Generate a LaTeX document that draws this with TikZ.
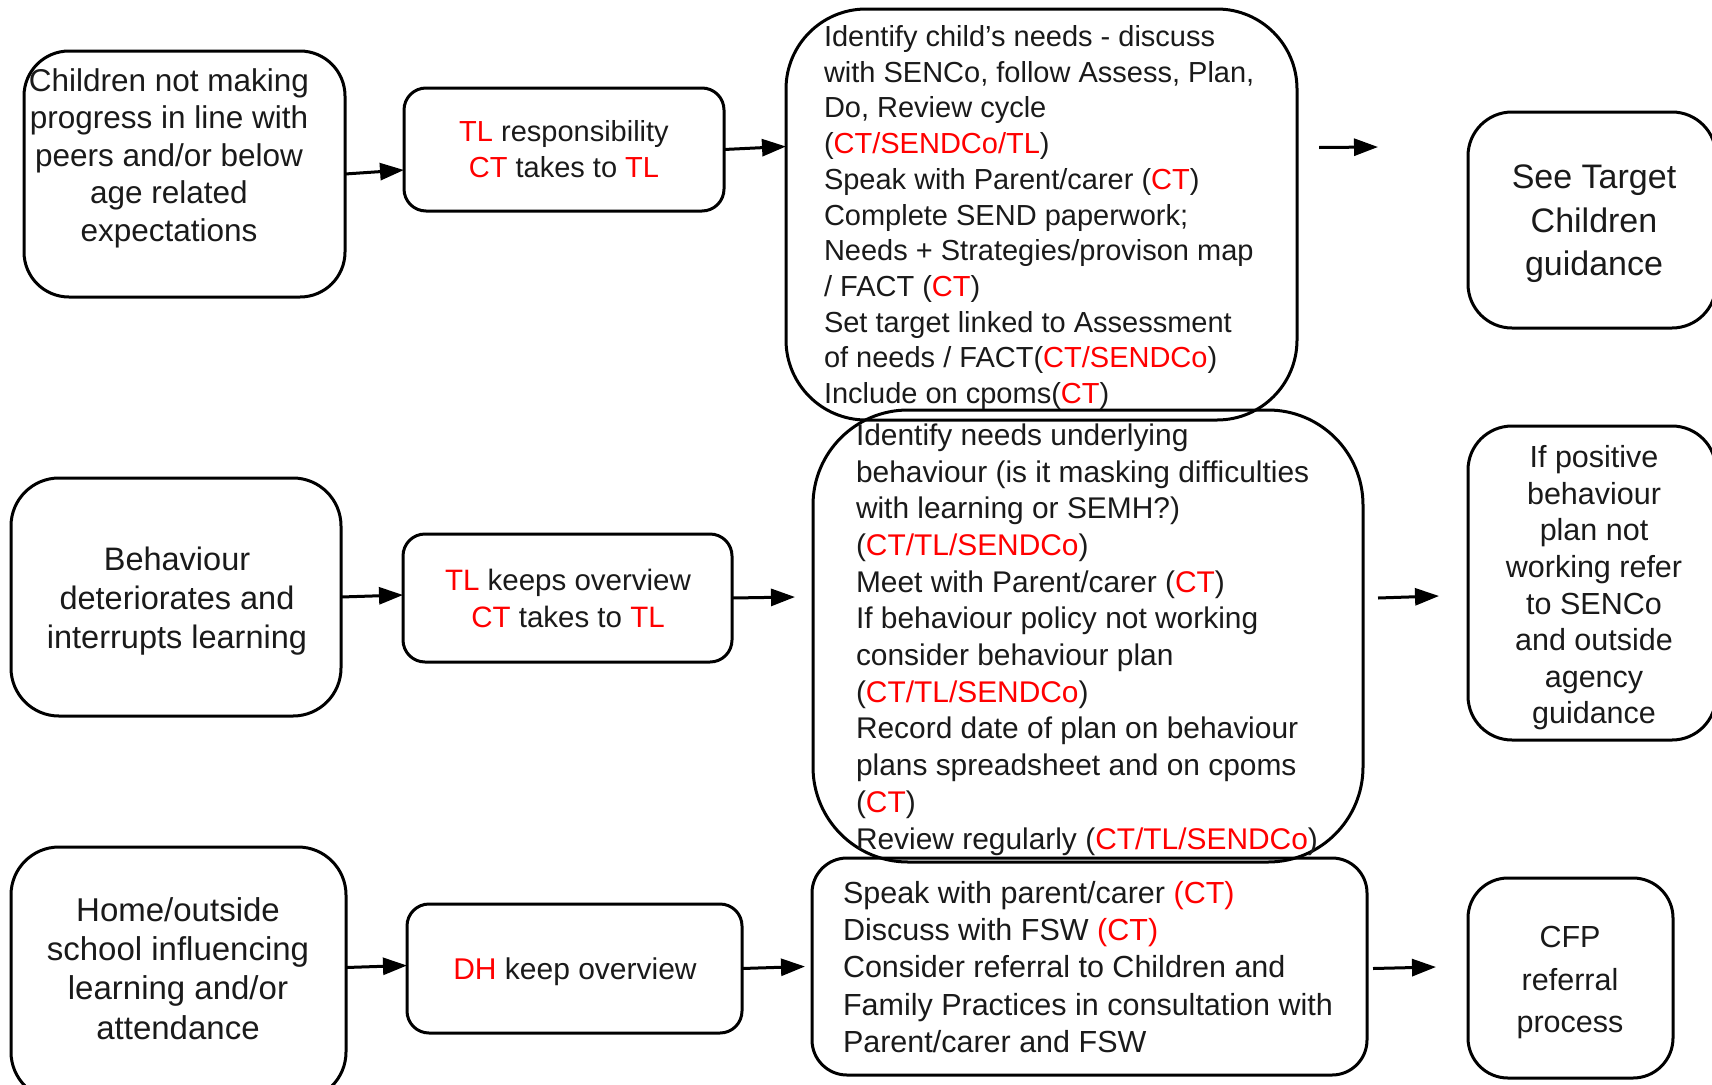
\documentclass[tikz,border=0pt]{standalone}
\usepackage{fontspec}
\setmainfont{Liberation Sans}
\usetikzlibrary{arrows.meta}
\definecolor{rd}{HTML}{FF0000}
\definecolor{ink}{HTML}{1A1A1A}
\newcommand{\rd}[1]{\textcolor{rd}{#1}}
\begin{document}
\begin{tikzpicture}[x=1pt,y=-1pt,
  box/.style={draw=black, line width=3pt, inner sep=0pt, outer sep=0pt},
  arr/.style={-{Triangle[length=24pt,width=17pt]}, line width=3pt, draw=black},
  txt/.style={inner sep=0pt, outer sep=0pt, text=ink}]
\useasboundingbox (0,0) rectangle (1712,1084);
\fill[white] (0,0) rectangle (1712,1084);
\clip (0,0) rectangle (1712,1084);

% ---- boxes ----
\node[box, rounded corners=45pt, minimum width=321pt, minimum height=246pt] (A1) at (184.5,174) {};
\node[box, rounded corners=22pt, minimum width=320pt, minimum height=123pt] (B1) at (564,149.5) {};
\node[box, rounded corners=80pt, minimum width=511pt, minimum height=411pt] (C1) at (1041.5,214.5) {};
\node[box, rounded corners=44pt, minimum width=248pt, minimum height=216pt] (D1) at (1592,220) {};

\node[box, rounded corners=48pt, minimum width=330pt, minimum height=238pt] (A2) at (176,597) {};
\node[box, rounded corners=22pt, minimum width=329pt, minimum height=128pt] (B2) at (567.5,598) {};
\node[box, rounded corners=95pt, minimum width=550pt, minimum height=452pt] (C2) at (1088,636) {};
\node[box, rounded corners=44pt, minimum width=248pt, minimum height=314pt] (D2) at (1592,583) {};

\node[box, rounded corners=48pt, minimum width=335pt, minimum height=253pt] (A3) at (178.5,973.5) {};
\node[box, rounded corners=22pt, minimum width=335pt, minimum height=129pt] (B3) at (574.5,968.5) {};
\node[box, rounded corners=35pt, minimum width=555pt, minimum height=217pt] (C3) at (1089.5,966.5) {};
\node[box, rounded corners=40pt, minimum width=205pt, minimum height=200pt] (D3) at (1570.5,978) {};

% ---- texts ----
\node[txt, align=center, font=\fontsize{31.5}{37.5}\selectfont] (tA1) at (169,158)
  {Children not making\\progress in line with\\peers and/or below\\age related\\expectations};
\node[txt, align=center, font=\fontsize{29}{36}\selectfont] (tB1) at (564,149)
  {\rd{TL} responsibility\\\rd{CT} takes to \rd{TL}};
\node[txt, align=left, anchor=west, font=\fontsize{29}{35.7}\selectfont] (tC1) at (824,217.5)
  {Identify child’s needs - discuss\\
   with SENCo, follow Assess, Plan,\\
   Do, Review cycle\\
   (\rd{CT/SENDCo/TL})\\
   Speak with Parent/carer (\rd{CT})\\
   Complete SEND paperwork;\\
   Needs + Strategies/provison map\\
   / FACT (\rd{CT})\\
   Set target linked to Assessment\\
   of needs / FACT(\rd{CT/SENDCo})\\
   Include on cpoms(\rd{CT})};
\node[txt, align=center, font=\fontsize{34}{43.5}\selectfont] (tD1) at (1594,224)
  {See Target\\Children\\guidance};

\node[txt, align=center, font=\fontsize{32.5}{39.3}\selectfont] (tA2) at (177,601)
  {Behaviour\\deteriorates and\\interrupts learning};
\node[txt, align=center, font=\fontsize{29.5}{37}\selectfont] (tB2) at (568,598)
  {\rd{TL} keeps overview\\\rd{CT} takes to \rd{TL}};
\node[txt, align=left, anchor=west, font=\fontsize{29.9}{36.7}\selectfont] (tC2) at (856,639.5)
  {Identify needs underlying\\
   behaviour (is it masking difficulties\\
   with learning or SEMH?)\\
   (\rd{CT/TL/SENDCo})\\
   Meet with Parent/carer (\rd{CT})\\
   If behaviour policy not working\\
   consider behaviour plan\\
   (\rd{CT/TL/SENDCo})\\
   Record date of plan on behaviour\\
   plans spreadsheet and on cpoms\\
   (\rd{CT})\\
   Review regularly (\rd{CT/TL/SENDCo})};
\node[txt, align=center, font=\fontsize{30.5}{36.6}\selectfont] (tD2) at (1594,588)
  {If positive\\behaviour\\plan not\\working refer\\to SENCo\\and outside\\agency\\guidance};

\node[txt, align=center, font=\fontsize{33}{39.3}\selectfont] (tA3) at (178,968.5)
  {Home/outside\\school influencing\\learning and/or\\attendance};
\node[txt, align=center, font=\fontsize{30}{37}\selectfont] (tB3) at (575,972)
  {\rd{DH} keep overview};
\node[txt, align=left, anchor=west, font=\fontsize{30.5}{37.1}\selectfont] (tC3) at (843,967)
  {Speak with parent/carer \rd{(CT)}\\
   Discuss with FSW \rd{(CT)}\\
   Consider referral to Children and\\
   Family Practices in consultation with\\
   Parent/carer and FSW};
\node[txt, align=center, font=\fontsize{30.5}{42.5}\selectfont] (tD3) at (1570,983)
  {CFP\\referral\\process};

% ---- connectors ----
\draw[arr] (A1.east) -- ([yshift=-20.5pt]B1.west);
\draw[arr] (B1.east) -- ([yshift=68pt]C1.west);
\draw[arr] ([xshift=22pt,yshift=67pt]C1.east) -- ([xshift=-90pt,yshift=73pt]D1.west);

\draw[arr] (A2.east) -- ([yshift=3pt]B2.west);
\draw[arr] (B2.east) -- ([xshift=-18pt,yshift=39pt]C2.west);
\draw[arr] ([xshift=15pt,yshift=38pt]C2.east) -- ([xshift=-29pt,yshift=-13pt]D2.west);

\draw[arr] ([yshift=6pt]A3.east) -- ([yshift=3pt]B3.west);
\draw[arr] (B3.east) -- ([xshift=-7pt]C3.west);
\draw[arr] ([xshift=6pt,yshift=-2pt]C3.east) -- ([xshift=-32pt,yshift=11pt]D3.west);
\end{tikzpicture}
\end{document}
